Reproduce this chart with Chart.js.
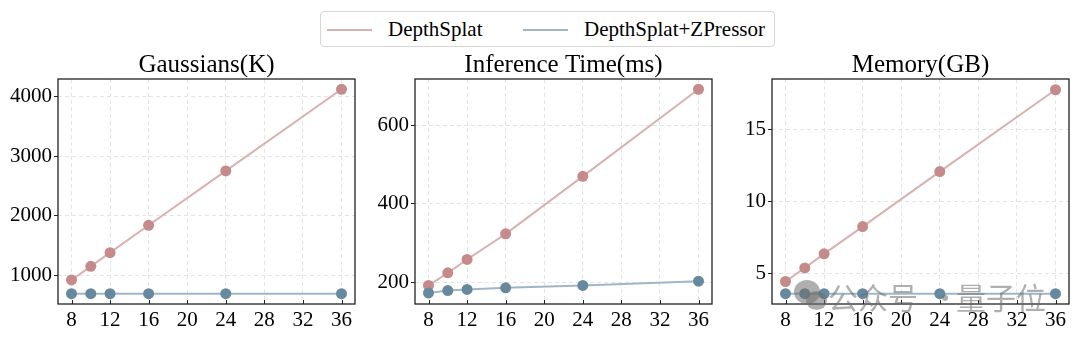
<!DOCTYPE html>
<html>
<head>
<meta charset="utf-8">
<script src="https://cdn.jsdelivr.net/npm/chart.js@4.4.0/dist/chart.umd.min.js"></script>
<style>
  body { margin: 0; background: #fff; width: 1080px; height: 340px; position: relative; overflow: hidden; font-family: "Liberation Serif", serif; }
  .panel { position: absolute; top: 40px; height: 300px; }
  .legend { position: absolute; left: 320px; top: 11px; width: 453px; height: 34px; border: 1px solid #d6d6d6; border-radius: 4px; font-size: 21px; }
  .legend .item { position: absolute; top: 0; height: 34px; line-height: 34px; white-space: nowrap; }
  .legend .swatch { position: absolute; top: 17px; width: 45px; height: 2px; }
  .legend .lbl { position: absolute; top: 0; }
  .wm { position: absolute; top: 277px; font-family: "Noto Sans CJK SC"; font-size: 30px; line-height: 38px; color: rgba(110,110,110,0.55); white-space: nowrap; }
  .wm-icon { position: absolute; border-radius: 50%; background: rgba(110,110,110,0.55); }
</style>
</head>
<body>

<div class="legend">
  <div class="item" style="left:6px"><span class="swatch" style="left:0;background:#d7b2b1"></span><span class="lbl" style="left:61px">DepthSplat</span></div>
  <div class="item" style="left:202px"><span class="swatch" style="left:0;background:#a0b6c4"></span><span class="lbl" style="left:61px">DepthSplat+ZPressor</span></div>
</div>

<div class="panel" style="left:0px;width:365px"><canvas id="c1" width="365" height="300"></canvas></div>
<div class="panel" style="left:357px;width:365px"><canvas id="c2" width="365" height="300"></canvas></div>
<div class="panel" style="left:714px;width:366px"><canvas id="c3" width="366" height="300"></canvas></div>

<div class="wm-icon" style="left:794px;top:280px;width:26px;height:24px"></div>
<div class="wm-icon" style="left:806px;top:291px;width:21px;height:19px"></div>
<div class="wm" style="left:828px">公众号</div>
<div class="wm" style="left:930px">·</div>
<div class="wm" style="left:956px">量子位</div>

<script>
// data
const views = [8, 10, 12, 16, 24, 36];
const xTicks = [8, 12, 16, 20, 24, 28, 32, 36];

const gaussBase = [920, 1150, 1380, 1840, 2755, 4128];
const gaussZp = [690, 690, 690, 690, 690, 690];
const gaussTicks = [1000, 2000, 3000, 4000];

const timeBase = [193, 225, 259, 324, 470, 691];
const timeZp = [174, 180, 183, 187, 193, 204];
const timeTicks = [200, 400, 600];

const memBase = [4.42, 5.37, 6.35, 8.25, 12.09, 17.8];
const memZp = [3.57, 3.57, 3.57, 3.57, 3.57, 3.57];
const memTicks = [5, 10, 15];

const pinkDot = "#c58b8b", pinkLine = "#d7b2b1";
const blueDot = "#67899e", blueLine = "#a0b6c4";

// black box around plot, inward x ticks, title centred over plot
const framePlugin = {
    id: "frame",
    afterDraw(chart, args, opts) {
        const ctx = chart.ctx, a = chart.chartArea, xs = chart.scales.x;
        ctx.save();
        ctx.strokeStyle = "#222";
        ctx.lineWidth = 1.3;
        ctx.strokeRect(a.left, a.top, a.right - a.left, a.bottom - a.top);
        ctx.lineWidth = 1;
        xs.ticks.forEach(t => {
            const px = Math.round(xs.getPixelForValue(t.value)) + 0.5;
            ctx.beginPath();
            ctx.moveTo(px, a.bottom);
            ctx.lineTo(px, a.bottom - 4);
            ctx.stroke();
        });
        ctx.fillStyle = "#000";
        ctx.font = '25px "Liberation Serif"';
        ctx.textAlign = "center";
        ctx.textBaseline = "alphabetic";
        ctx.fillText(opts.text, (a.left + a.right) / 2, a.top - 7);
        ctx.restore();
    }
};

function makeChart(id, title, base, zp, yTicks, yMin, yMax, padRight) {
    return new Chart(document.getElementById(id), {
        type: "line",
        data: {
            datasets: [
                {
                    label: "DepthSplat",
                    data: views.map((v, i) => ({ x: v, y: base[i] })),
                    borderColor: pinkLine,
                    backgroundColor: pinkDot,
                    pointBackgroundColor: pinkDot,
                    pointBorderWidth: 0,
                    pointRadius: 5.5,
                    borderWidth: 2,
                    order: 2,
                },
                {
                    label: "DepthSplat+ZPressor",
                    data: views.map((v, i) => ({ x: v, y: zp[i] })),
                    borderColor: blueLine,
                    backgroundColor: blueDot,
                    pointBackgroundColor: blueDot,
                    pointBorderWidth: 0,
                    pointRadius: 5.5,
                    borderWidth: 2,
                    order: 1,
                },
            ],
        },
        options: {
            responsive: false,
            animation: false,
            devicePixelRatio: 1,
            layout: { padding: { top: 39, right: padRight, left: 0, bottom: 0 } },
            plugins: {
                legend: { display: false },
                tooltip: { enabled: false },
                frame: { text: title },
            },
            scales: {
                x: {
                    type: "linear",
                    min: 6.6,
                    max: 37.4,
                    afterBuildTicks: s => { s.ticks = xTicks.map(v => ({ value: v })); },
                    afterFit: s => { s.height = 36; },
                    grid: { color: "#e4e4e4", lineWidth: 1, drawTicks: false },
                    border: { display: false, dash: [4, 3] },
                    ticks: { color: "#000", padding: 4, maxRotation: 0, callback: v => String(v), font: { family: "Liberation Serif", size: 21 } },
                },
                y: {
                    type: "linear",
                    min: yMin,
                    max: yMax,
                    afterBuildTicks: s => { s.ticks = yTicks.map(v => ({ value: v })); },
                    afterFit: s => { s.width = 58; },
                    grid: { color: "#e4e4e4", lineWidth: 1, tickLength: 4, tickColor: "#222", tickBorderDash: [] },
                    border: { display: false, dash: [4, 3] },
                    ticks: { color: "#000", padding: 2, callback: v => String(v), font: { family: "Liberation Serif", size: 21 } },
                },
            },
        },
        plugins: [framePlugin],
    });
}

makeChart("c1", "Gaussians(K)", gaussBase, gaussZp, gaussTicks, 516, 4301, 10);
makeChart("c2", "Inference Time(ms)", timeBase, timeZp, timeTicks, 146, 717, 10);
makeChart("c3", "Memory(GB)", memBase, memZp, memTicks, 2.85, 18.55, 11);
</script>
</body>
</html>
